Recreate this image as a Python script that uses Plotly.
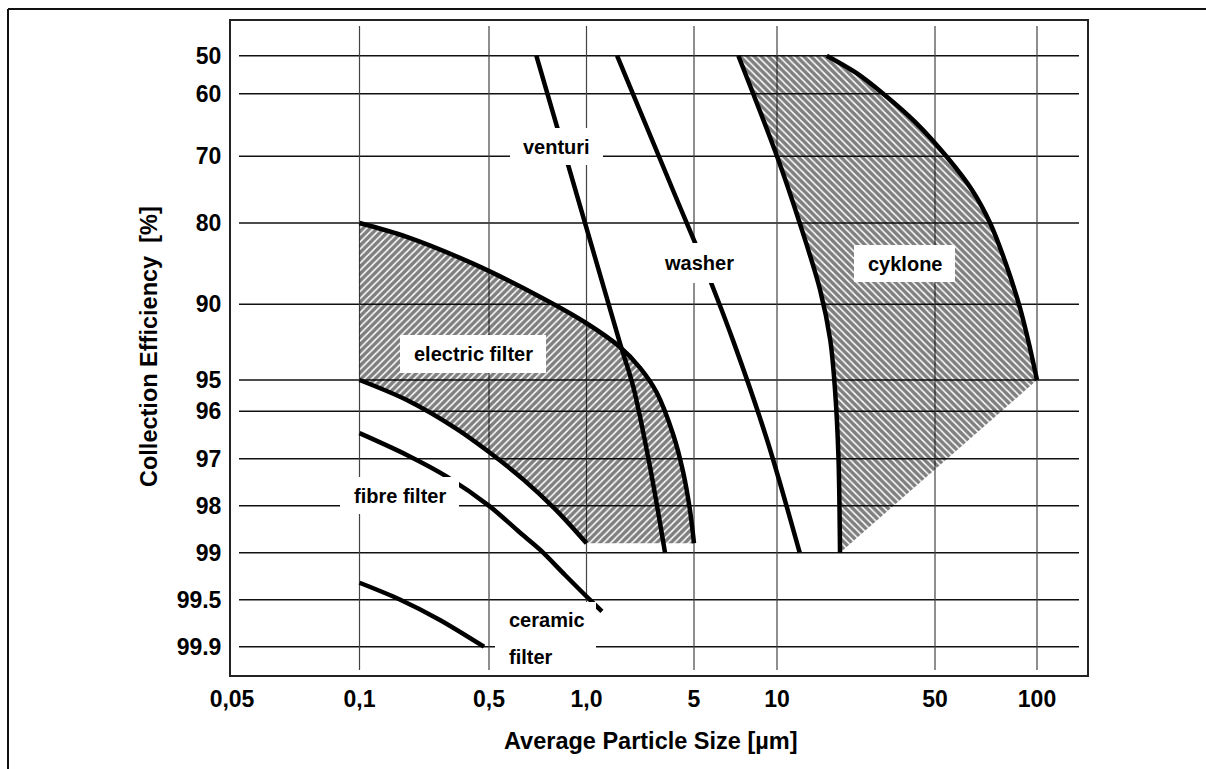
import numpy as np
import plotly.graph_objects as go

# ---------------- data ----------------
X_TICK_VALUES = [0.05, 0.1, 0.5, 1.0, 5, 10, 50, 100]
X_TICK_LABELS = ["0,05", "0,1", "0,5", "1,0", "5", "10", "50", "100"]
Y_TICK_VALUES = [50, 60, 70, 80, 90, 95, 96, 97, 98, 99, 99.5, 99.9]
Y_TICK_LABELS = ["50", "60", "70", "80", "90", "95", "96", "97", "98", "99", "99.5", "99.9"]

ELECTRIC_UPPER_SIZE = [0.1, 0.18, 0.41, 0.72, 1.0, 1.65, 2.23, 2.86, 3.67, 4.26, 4.71, 5.0]
ELECTRIC_UPPER_EFF = [80, 81.7, 85.0, 89.1, 91.25, 92.82, 94.2, 95.4, 96.5, 97.3, 98.1, 98.8]
ELECTRIC_LOWER_SIZE = [0.1, 0.18, 0.334, 0.5, 0.64, 0.81, 1.0]
ELECTRIC_LOWER_EFF = [95, 95.64, 96.37, 96.86, 97.45, 98.11, 98.8]

VENTURI_SIZE = [0.70, 1.65, 2.01, 2.59, 3.24]
VENTURI_EFF = [50, 92.56, 95.2, 97.18, 99]

WASHER_SIZE = [1.58, 3.88, 5.26, 6.93, 9.2, 12.6]
WASHER_EFF = [50, 76.55, 83.94, 92.4, 96.6, 99]

CYCLONE_LEFT_SIZE = [7.24, 10, 12.6, 15.5, 17.2, 18.06, 18.7, 19.0]
CYCLONE_LEFT_EFF = [50, 70, 80, 88.2, 92.36, 95.32, 96.96, 99]
CYCLONE_RIGHT_SIZE = [16.6, 22.5, 29.5, 40.8, 54, 64.3, 72.7, 81, 89, 94.7, 100]
CYCLONE_RIGHT_EFF = [50, 54.6, 60, 64.5, 70, 75.05, 80, 85.04, 90.2, 92.6, 95]

FIBRE_SIZE = [0.1, 0.18, 0.296, 0.504, 0.62, 0.72, 0.86, 1.05, 1.26]
FIBRE_EFF = [96.46, 96.92, 97.38, 98.02, 98.56, 98.94, 99.24, 99.5, 99.6]

CERAMIC_SIZE = [0.1, 0.166, 0.27, 0.47]
CERAMIC_EFF = [99.32, 99.5, 99.67, 99.9]

# ---------------- layout / scale definition ----------------
W, H = 1206, 769
PLOT_L, PLOT_R, PLOT_T, PLOT_B = 231, 1087, 21, 675
# the printed chart uses a hand-drawn, non-uniform scale: breakpoints of each tick
X_SCALE_POS = [232, 359.5, 489, 586.5, 694, 777, 935, 1037]
Y_SCALE_POS = [55.7, 93.7, 156.3, 223, 304.3, 380, 411.3, 458.7, 505.7, 552.7, 599.7, 646.7]
GRID_X_EXTENT = (239, 1079)
GRID_Y_EXTENT = (26, 670)

FONT = "Liberation Sans, Arial, sans-serif"


def xs(size):
    return np.interp(np.log10(np.asarray(size, float)), np.log10(X_TICK_VALUES), X_SCALE_POS)


def ys(eff):
    return np.interp(np.asarray(eff, float), Y_TICK_VALUES, Y_SCALE_POS)


def px(v):
    return (v - PLOT_L) / (PLOT_R - PLOT_L)


def py(v):
    return (PLOT_B - v) / (PLOT_B - PLOT_T)


fig = go.Figure()

# hatched regions
HATCH = dict(fgcolor="black", bgcolor="rgba(255,255,255,0)", size=5, solidity=0.7)
ef_x = np.concatenate([xs(ELECTRIC_UPPER_SIZE), xs(ELECTRIC_LOWER_SIZE)[::-1]])
ef_y = np.concatenate([ys(ELECTRIC_UPPER_EFF), ys(ELECTRIC_LOWER_EFF)[::-1]])
fig.add_trace(go.Scatter(x=ef_x, y=ef_y, mode="lines", fill="toself",
                         fillcolor="rgba(255,255,255,0)", line=dict(width=0),
                         fillpattern=dict(shape="/", **HATCH),
                         hoverinfo="skip", showlegend=False))
cy_x = np.concatenate([xs(CYCLONE_LEFT_SIZE), xs(CYCLONE_RIGHT_SIZE)[::-1]])
cy_y = np.concatenate([ys(CYCLONE_LEFT_EFF), ys(CYCLONE_RIGHT_EFF)[::-1]])
fig.add_trace(go.Scatter(x=cy_x, y=cy_y, mode="lines", fill="toself",
                         fillcolor="rgba(255,255,255,0)", line=dict(width=0),
                         fillpattern=dict(shape="\\", **HATCH),
                         hoverinfo="skip", showlegend=False))

curves = [
    (ELECTRIC_UPPER_SIZE, ELECTRIC_UPPER_EFF),
    (ELECTRIC_LOWER_SIZE, ELECTRIC_LOWER_EFF),
    (VENTURI_SIZE, VENTURI_EFF),
    (WASHER_SIZE, WASHER_EFF),
    (CYCLONE_LEFT_SIZE, CYCLONE_LEFT_EFF),
    (CYCLONE_RIGHT_SIZE, CYCLONE_RIGHT_EFF),
    (FIBRE_SIZE, FIBRE_EFF),
    (CERAMIC_SIZE, CERAMIC_EFF),
]
for sx, sy in curves:
    fig.add_trace(go.Scatter(x=xs(sx), y=ys(sy), mode="lines",
                             line=dict(color="black", width=4.5, shape="spline", smoothing=0.9),
                             hoverinfo="skip", showlegend=False))

shapes = []
# grid lines (not spanning the whole frame)
for yv in ys(Y_TICK_VALUES):
    shapes.append(dict(type="line", xref="x", yref="y", x0=GRID_X_EXTENT[0], x1=GRID_X_EXTENT[1],
                       y0=yv, y1=yv, line=dict(color="#111", width=1.6), layer="below"))
for xv in xs(X_TICK_VALUES[1:]):
    shapes.append(dict(type="line", xref="x", yref="y", x0=xv, x1=xv,
                       y0=GRID_Y_EXTENT[0], y1=GRID_Y_EXTENT[1],
                       line=dict(color="#444", width=1.2), layer="below"))

# outer border (top and left edges visible)
shapes.append(dict(type="line", xref="paper", yref="paper", x0=px(8), x1=px(1215), y0=py(9), y1=py(9),
                   line=dict(color="#111", width=2)))
shapes.append(dict(type="line", xref="paper", yref="paper", x0=px(8), x1=px(8), y0=py(9), y1=py(780),
                   line=dict(color="#111", width=2)))

# white label boxes (x0, x1, y0, y1)
LABEL_BOXES = [
    (510, 603, 128, 165),    # venturi
    (651, 746, 243, 283),    # washer
    (854, 955, 245, 282),    # cyklone
    (400, 546, 335, 373),    # electric filter
    (340, 459, 477, 514),    # fibre filter
    (495, 596, 602, 673),    # ceramic filter
]
for x0, x1, y0, y1 in LABEL_BOXES:
    shapes.append(dict(type="rect", xref="x", yref="y", x0=x0, x1=x1, y0=y0, y1=y1,
                       fillcolor="white", line=dict(width=0), layer="above"))

LABELS = [
    ("venturi", 556.5, 146.5, "center"),
    ("washer", 698.5, 263, "center"),
    ("cyklone", 904.5, 263.5, "center"),
    ("electric filter", 473, 354, "center"),
    ("fibre filter", 399.5, 495.5, "center"),
    ("ceramic", 507, 620, "left"),
    ("filter", 507, 657, "left"),
]
annotations = []
for txt, x, y, anc in LABELS:
    annotations.append(dict(text=txt, x=x, y=y, xref="x", yref="y", showarrow=False,
                            xanchor=anc, yanchor="middle",
                            font=dict(family=FONT, size=20, color="black", weight="bold")))

annotations.append(dict(text="Average Particle Size [µm]", x=px(651), y=py(741), xref="paper", yref="paper",
                        showarrow=False, xanchor="center", yanchor="middle",
                        font=dict(family=FONT, size=23.5, color="black", weight="bold")))
annotations.append(dict(text="Collection Efficiency  [%]", x=px(149), y=py(347), xref="paper", yref="paper",
                        showarrow=False, xanchor="center", yanchor="middle", textangle=-90,
                        font=dict(family=FONT, size=23.5, color="black", weight="bold")))

tickfont = dict(family=FONT, size=23, color="black", weight="bold")
fig.update_layout(
    width=W, height=H,
    margin=dict(l=PLOT_L, r=W - PLOT_R, t=PLOT_T, b=H - PLOT_B, pad=0),
    paper_bgcolor="white", plot_bgcolor="white",
    shapes=shapes, annotations=annotations,
    xaxis=dict(range=[PLOT_L, PLOT_R], tickmode="array", tickvals=xs(X_TICK_VALUES), ticktext=X_TICK_LABELS,
               showgrid=False, zeroline=False, showline=True, mirror=True, linecolor="#222", linewidth=2,
               ticks="outside", ticklen=2, tickcolor="rgba(0,0,0,0)", tickfont=tickfont, fixedrange=True),
    yaxis=dict(range=[PLOT_B, PLOT_T], tickmode="array", tickvals=ys(Y_TICK_VALUES), ticktext=Y_TICK_LABELS,
               showgrid=False, zeroline=False, showline=True, mirror=True, linecolor="#222", linewidth=2,
               ticks="outside", ticklen=3, tickcolor="rgba(0,0,0,0)", tickfont=tickfont, fixedrange=True),
)

fig.write_html("out.html")
